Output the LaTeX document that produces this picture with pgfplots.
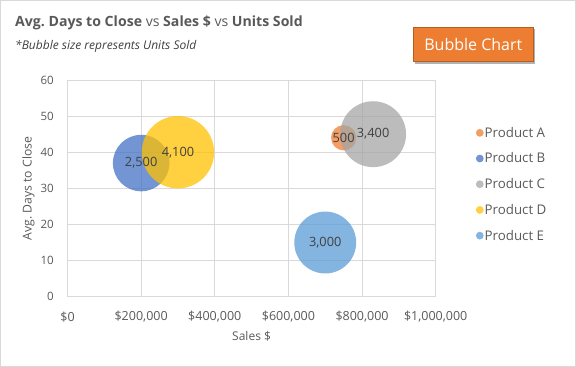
\documentclass[border=0pt]{standalone}
\usepackage{pgfplots}
\pgfplotsset{compat=1.18}
\usepackage{pgfplotstable}
\usepackage{fontspec}
\setmainfont{Open Sans}
\usetikzlibrary{shadows}
\frenchspacing
\definecolor{cA}{HTML}{ED7D31}
\definecolor{cB}{HTML}{4472C4}
\definecolor{cC}{HTML}{A5A5A5}
\definecolor{cD}{HTML}{FFC000}
\definecolor{cE}{HTML}{5B9BD5}
\definecolor{txt}{HTML}{595959}
\definecolor{lbl}{HTML}{404040}
\definecolor{grd}{HTML}{D9D9D9}
\definecolor{boxedge}{HTML}{B35E22}

\pgfplotstableread{
x y u
750000 44 500
}\tA
\pgfplotstableread{
x y u
200000 37 2500
}\tB
\pgfplotstableread{
x y u
830000 45 3400
}\tC
\pgfplotstableread{
x y u
300000 40 4100
}\tD
\pgfplotstableread{
x y u
700000 15 3000
}\tE
\pgfplotstableread{
x y u
750000 44 500
200000 37 2500
830000 45 3400
300000 40 4100
700000 15 3000
}\tAll

\pgfplotsset{
  bubble/.style={only marks, mark=*, scatter, point meta=\thisrow{u}, draw=none,
    mark options={draw=none, draw opacity=0, fill=#1, fill opacity=0.75},
    scatter/use mapped color={draw=none, draw opacity=0, fill=#1, fill opacity=0.75},
    visualization depends on={0.565*sqrt(\thisrow{u}) \as \rad},
    scatter/@pre marker code/.append style={/tikz/mark size=\rad pt},
    legend image code/.code={\fill[#1, fill opacity=0.75] (0pt,0pt) circle (3.9pt);}}
}

\begin{document}
\begin{tikzpicture}
\path[use as bounding box] (0pt,0pt) rectangle (576pt,367pt);
\draw[grd, line width=1pt] (0.5pt,0.5pt) rectangle (575.5pt,366.5pt);

\node[anchor=base west, inner sep=0pt, text=txt, font=\fontsize{14.1}{17}\selectfont]
  at (15pt,340.3pt) {\textbf{Avg.\ Days to Close} vs \textbf{Sales \$} vs \textbf{Units Sold}};
\node[anchor=base west, inner sep=0pt, text=lbl, font=\fontsize{12}{14}\selectfont\itshape]
  at (15pt,317pt) {*Bubble size represents Units Sold};
\node[fill=cA, draw=boxedge, line width=0.75pt, minimum width=120pt, minimum height=34.4pt,
  drop shadow={shadow xshift=2pt, shadow yshift=-2pt, opacity=0.3, fill=black},
  text=white, font=\fontsize{16}{19}\selectfont, inner sep=0pt]
  at (473.3pt,322.5pt) {Bubble Chart};

\begin{axis}[
  at={(67.5pt,70.3pt)}, anchor=south west,
  scale only axis, width=368.2pt, height=216.7pt,
  xmin=0, xmax=1000000, ymin=0, ymax=60,
  xtick={0,200000,400000,600000,800000,1000000},
  xticklabels={{\$0},{\$200,000},{\$400,000},{\$600,000},{\$800,000},{\$1,000,000}},
  ytick={0,10,20,30,40,50,60},
  /pgf/number format/assume math mode=true,
  scaled x ticks=false,
  grid=major, grid style={grd, line width=0.75pt},
  axis line style={grd, line width=0.75pt},
  major tick length=0pt,
  tick label style={text=txt},
  xticklabel style={anchor=center, yshift=-20pt, font=\fontsize{12.5}{15}\selectfont},
  yticklabel style={anchor=east, inner sep=0pt, xshift=-13.5pt, font=\fontsize{11.5}{14}\selectfont},
  xlabel={Sales \$},
  xlabel style={at={(axis description cs:0.5,0)}, anchor=center, yshift=-40pt, font=\fontsize{12}{14}\selectfont, text=txt},
  ylabel={Avg.\ Days to Close},
  ylabel style={at={(axis description cs:-0.106,0.5)}, anchor=center, font=\fontsize{12.2}{14}\selectfont, text=txt},
  legend style={draw=none, fill=none, at={(1,0.519)}, anchor=west, xshift=40pt, inner sep=0pt,
    font=\fontsize{13.3}{15}\selectfont, text=txt, row sep=14.9pt,
    nodes={inner sep=1pt, text height=8.8pt, text depth=0pt}},
  legend cell align=left,
]
\addplot[bubble=cA] table[x=x,y=y] {\tA};
\addlegendentry{Product A}
\addplot[bubble=cB] table[x=x,y=y] {\tB};
\addlegendentry{Product B}
\addplot[bubble=cC] table[x=x,y=y] {\tC};
\addlegendentry{Product C}
\addplot[bubble=cD] table[x=x,y=y] {\tD};
\addlegendentry{Product D}
\addplot[bubble=cE] table[x=x,y=y] {\tE};
\addlegendentry{Product E}
\addplot[draw=none, mark=none, forget plot, point meta=\thisrow{u},
  nodes near coords={\pgfmathprintnumber[1000 sep={,}]{\pgfplotspointmeta}},
  every node near coord/.style={anchor=center, font=\fontsize{12.8}{15}\selectfont, text=lbl}]
  table[x=x,y=y] {\tAll};
\end{axis}
\end{tikzpicture}
\end{document}
